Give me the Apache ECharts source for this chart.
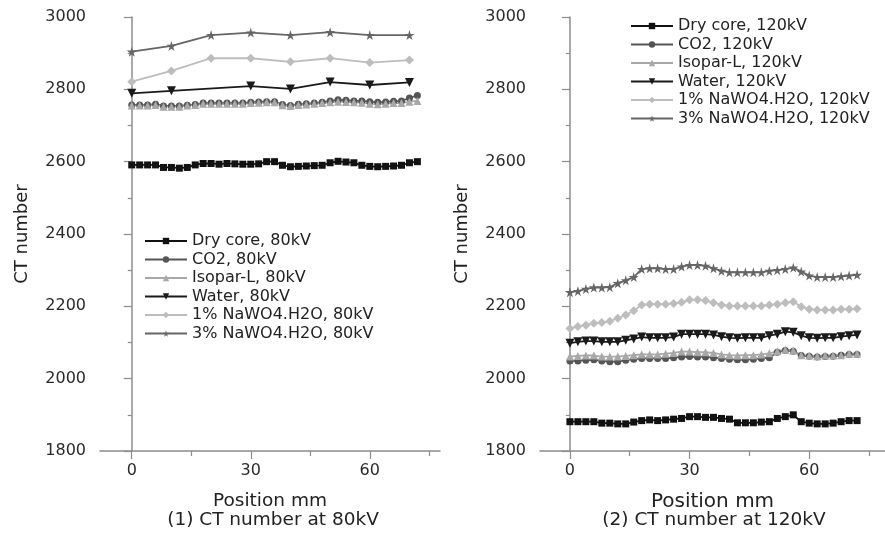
<!DOCTYPE html>
<html>
<head>
<meta charset="utf-8">
<script src="https://cdn.jsdelivr.net/npm/echarts@6/dist/echarts.min.js"></script>
<style>html,body{margin:0;padding:0;background:#fff;}#c{width:885px;height:537px;}</style>
</head>
<body>
<div id="c"></div>
<script>
// ---- data ----
const posDense = [0,2,4,6,8,10,12,14,16,18,20,22,24,26,28,30,32,34,36,38,40,42,44,46,48,50,52,54,56,58,60,62,64,66,68,70,72];
const posSparse = [0,10,20,30,40,50,60,70];
const posWater80 = [0,10,30,40,50,60,70];

const dry80 = [2591,2591,2591,2591,2584,2584,2582,2584,2591,2595,2595,2593,2595,2594,2593,2593,2594,2600,2600,2590,2586,2587,2588,2589,2590,2597,2601,2599,2597,2590,2587,2586,2587,2588,2590,2597,2600];
const co280 = [2757,2757,2757,2759,2754,2754,2754,2756,2758,2762,2762,2762,2762,2762,2762,2764,2765,2766,2766,2758,2755,2759,2760,2762,2764,2768,2771,2770,2768,2768,2766,2764,2765,2767,2768,2776,2783];
const iso80 = [2755,2755,2755,2757,2752,2752,2752,2755,2757,2760,2760,2760,2760,2760,2760,2762,2763,2764,2764,2756,2754,2757,2758,2760,2762,2764,2766,2765,2764,2763,2760,2759,2760,2762,2762,2766,2768];
const water80 = [2789,2796,2809,2801,2820,2812,2819];
const na1_80 = [2821,2851,2886,2886,2876,2886,2874,2881];
const na3_80 = [2904,2920,2950,2957,2950,2958,2950,2950];

const dry120 = [1881,1881,1881,1881,1877,1877,1875,1875,1880,1884,1886,1884,1886,1888,1890,1895,1895,1893,1893,1890,1888,1878,1878,1878,1880,1881,1890,1895,1900,1881,1877,1875,1875,1877,1881,1884,1884];
const co2120 = [2049,2049,2051,2052,2049,2047,2047,2051,2054,2056,2056,2056,2056,2058,2060,2061,2060,2060,2058,2056,2054,2052,2052,2054,2056,2058,2073,2078,2076,2064,2062,2060,2061,2062,2065,2067,2067];
const iso120 = [2061,2063,2064,2064,2061,2061,2061,2063,2065,2067,2067,2067,2069,2071,2075,2075,2073,2073,2071,2067,2065,2064,2065,2065,2067,2070,2076,2080,2078,2065,2064,2062,2064,2064,2065,2069,2069];
const water120 = [2098,2102,2104,2104,2102,2102,2102,2106,2110,2115,2113,2113,2113,2115,2123,2123,2123,2123,2121,2116,2113,2112,2113,2113,2113,2119,2123,2130,2128,2119,2113,2112,2113,2113,2116,2119,2121];
const na1_120 = [2139,2144,2148,2153,2155,2159,2167,2176,2188,2204,2206,2206,2206,2208,2211,2218,2218,2216,2210,2204,2201,2201,2201,2201,2201,2204,2206,2210,2213,2199,2192,2190,2190,2190,2192,2192,2193];
const na3_120 = [2239,2242,2248,2252,2252,2253,2264,2272,2281,2303,2305,2305,2303,2303,2310,2314,2314,2312,2305,2298,2294,2294,2294,2294,2294,2298,2300,2303,2307,2296,2285,2281,2281,2281,2283,2285,2287];

const names80 = ['Dry core, 80kV','CO2, 80kV','Isopar-L, 80kV','Water, 80kV','1% NaWO4.H2O, 80kV','3% NaWO4.H2O, 80kV'];
const names120 = ['Dry core, 120kV','CO2, 120kV','Isopar-L, 120kV','Water, 120kV','1% NaWO4.H2O, 120kV','3% NaWO4.H2O, 120kV'];
const yTicks = {min:1800, max:3000, interval:200};
const xMajor = [0,30,60];
const xMinor = [15,45,75];

// ---- styling ----
const FONT = 'DejaVu Sans';
const STAR = 'path://M50,0 L61,35 L98,35 L68,57 L79,91 L50,70 L21,91 L32,57 L2,35 L39,35 Z';
const styles = [
  {color:'#111111', symbol:'rect', size:7},
  {color:'#555555', symbol:'circle', size:7},
  {color:'#a8a8a8', symbol:'triangle', size:8},
  {color:'#1a1a1a', symbol:'triangle', size:9, rotate:180},
  {color:'#bdbdbd', symbol:'diamond', size:9},
  {color:'#666666', symbol:STAR, size:10}
];
const pair = (xs, ys) => xs.map((x,i)=>[x, ys[i]]);

function mkSeries(name, idx, xs, ys, axis){
  const s = styles[idx];
  return {
    type:'line', name, xAxisIndex:axis.x, yAxisIndex:axis.y,
    data: pair(xs, ys),
    symbol:s.symbol, symbolSize:s.size, symbolRotate:s.rotate||0,
    showAllSymbol:true,
    itemStyle:{color:s.color}, lineStyle:{color:s.color, width:1.8},
    animation:false
  };
}

const axisGray = '#8c8c8c';
function yAx(grid){
  return {type:'value', gridIndex:grid, min:yTicks.min, max:yTicks.max, interval:yTicks.interval,
    name:'CT number', nameLocation:'middle', nameGap:69,
    nameTextStyle:{fontFamily:FONT, fontSize:18, color:'#222'},
    axisLine:{show:true, lineStyle:{color:axisGray, width:1.5}},
    axisTick:{show:true, length:8, lineStyle:{color:axisGray, width:1.2}},
    minorTick:{show:true, splitNumber:2, length:4, lineStyle:{color:axisGray, width:1.2}},
    axisLabel:{fontFamily:FONT, fontSize:16, color:'#2a2a2a', margin:14, formatter:(v)=>String(v)},
    splitLine:{show:false}};
}
function xAx(grid, min, max, nameSize){
  return {type:'value', gridIndex:grid, min, max, position:'bottom',
    name:'Position mm', nameLocation:'middle', nameGap:41,
    nameTextStyle:{fontFamily:FONT, fontSize:nameSize, color:'#222'},
    axisLine:{show:true, onZero:false, lineStyle:{color:axisGray, width:1.5}},
    axisTick:{show:true, length:8, customValues:xMajor, lineStyle:{color:axisGray, width:1.2}},
    axisLabel:{fontFamily:FONT, fontSize:16, color:'#2a2a2a', margin:12, customValues:xMajor, formatter:(v)=>String(v)},
    splitLine:{show:false}};
}
function xMinorAx(grid, min, max){
  return {type:'value', gridIndex:grid, min, max, position:'bottom',
    axisLine:{show:false, onZero:false},
    axisTick:{show:true, length:5, customValues:xMinor, lineStyle:{color:axisGray, width:1.2}},
    axisLabel:{show:false}, splitLine:{show:false}};
}

const legendCommon = {orient:'vertical', itemWidth:42, itemHeight:8, itemGap:2.5, selectedMode:false,
  textStyle:{fontFamily:FONT, fontSize:16, color:'#222'}};

const option = {
  backgroundColor:'#fff',
  animation:false,
  grid:[
    {left:100, top:17, width:340, height:434},
    {left:540, top:17, width:345, height:434}
  ],
  xAxis:[xAx(0,-8,77.7,18.5), xAx(1,-7.5,79,20), xMinorAx(0,-8,77.7), xMinorAx(1,-7.5,79)],
  yAxis:[yAx(0), yAx(1)],
  legend:[
    Object.assign({left:139, top:228, data:names80}, legendCommon),
    Object.assign({left:625, top:13, data:names120}, legendCommon)
  ],
  graphic:[
    {type:'text', style:{text:'(1) CT number at 80kV', fontFamily:FONT, fontSize:18.5, fill:'#222', align:'center', verticalAlign:'middle', x:273, y:520}},
    {type:'text', style:{text:'(2) CT number at 120kV', fontFamily:FONT, fontSize:18.5, fill:'#222', align:'center', verticalAlign:'middle', x:714, y:520}}
  ],
  series:[
    mkSeries(names80[0],0,posDense,dry80,{x:0,y:0}),
    mkSeries(names80[1],1,posDense,co280,{x:0,y:0}),
    mkSeries(names80[2],2,posDense,iso80,{x:0,y:0}),
    mkSeries(names80[3],3,posWater80,water80,{x:0,y:0}),
    mkSeries(names80[4],4,posSparse,na1_80,{x:0,y:0}),
    mkSeries(names80[5],5,posSparse,na3_80,{x:0,y:0}),
    mkSeries(names120[0],0,posDense,dry120,{x:1,y:1}),
    mkSeries(names120[1],1,posDense,co2120,{x:1,y:1}),
    mkSeries(names120[2],2,posDense,iso120,{x:1,y:1}),
    mkSeries(names120[3],3,posDense,water120,{x:1,y:1}),
    mkSeries(names120[4],4,posDense,na1_120,{x:1,y:1}),
    mkSeries(names120[5],5,posDense,na3_120,{x:1,y:1})
  ]
};

const chart = echarts.init(document.getElementById('c'), null, {renderer:'canvas'});
chart.setOption(option);
</script>
</body>
</html>
